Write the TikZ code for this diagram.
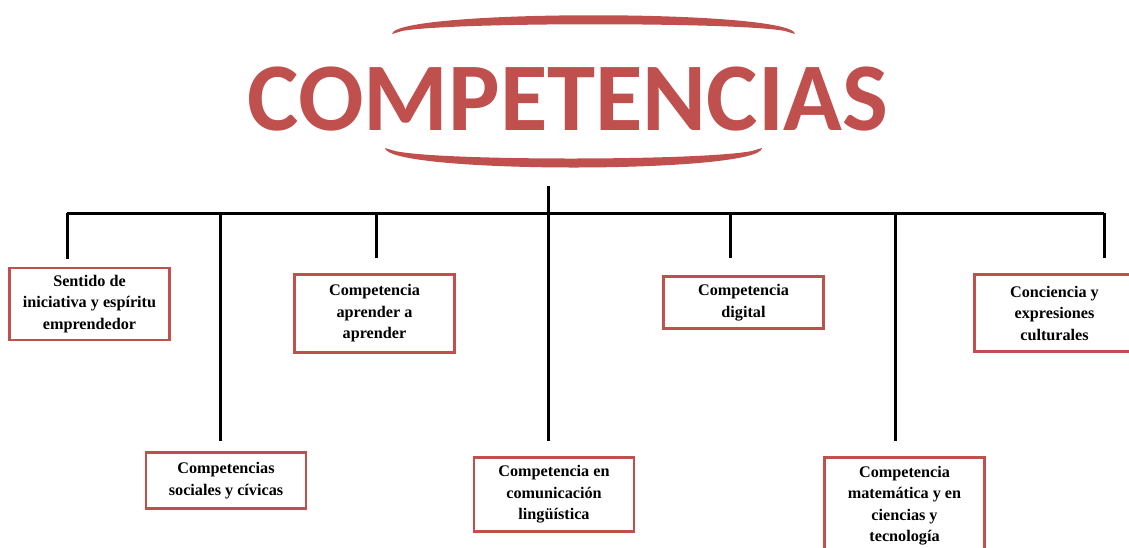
\documentclass[tikz,border=0pt]{standalone}
\usepackage{fontspec}
\setmainfont{Liberation Serif}
\newfontfamily\titlefont{Carlito}
\definecolor{cred}{HTML}{C0504D}
\begin{document}
\begin{tikzpicture}[x=1pt,y=-1pt,
  box/.style={draw=cred, line width=2.5pt, fill=white, minimum width=160pt,
    align=center, inner sep=0pt, font=\bfseries\fontsize{16.2}{21.5}\selectfont},
  conn/.style={line width=3pt, black},
  arcfill/.style={fill=cred, draw=none}]
\clip (0,0) rectangle (1129,547);
\fill[white] (0,0) rectangle (1129,547);
% title
\node[anchor=base, font=\titlefont\bfseries\fontsize{97}{97}\selectfont, text=cred, inner sep=0pt] (title) at (568,130) {COMPETENCIAS};
\path[arcfill] (392,34) .. controls (395,9) and (792,9) .. (795,34)
  -- (785,31) .. controls (740,22) and (450,22) .. (402,31) -- cycle;
\path[arcfill] (385,148) .. controls (388,174) and (760,174) .. (762,148)
  -- (752,151) .. controls (700,161) and (440,161) .. (395,151) -- cycle;
% boxes
\node[box, minimum height=72pt] (s1) at (89.5,304) {Sentido de\\iniciativa y espíritu\\emprendedor};
\node[box, minimum height=56pt] (s2) at (226,480.5) {Competencias\\sociales y cívicas};
\node[box, minimum height=78pt] (s3) at (374.5,313.5) {Competencia\\aprender a\\aprender};
\node[box, minimum height=74pt] (s4) at (554,494.5) {Competencia en\\comunicación\\lingüística};
\node[box, minimum height=52pt] (s5) at (743.5,302.5) {Competencia\\digital};
\node[box, minimum height=96pt] (s6) at (904.5,505.5) {Competencia\\matemática y en\\ciencias y\\tecnología};
\node[box, minimum height=77pt] (s7) at (1054.5,313) {Conciencia y\\expresiones\\culturales};
% connectors
\coordinate (top) at (548,186);
\coordinate (hub) at (548,213);
\coordinate (b1) at (67,213);
\coordinate (b2) at (220,213);
\coordinate (b3) at (376,213);
\coordinate (b4) at (548,213);
\coordinate (b5) at (730,213);
\coordinate (b6) at (895,213);
\coordinate (b7) at (1104,213);
\draw[conn] (top) -- (hub);
\draw[conn] (b1) -- (b7);
\draw[conn] (b1) -- ([yshift=8pt]b1 |- s1.north);
\draw[conn] (b2) -- ([yshift=10pt]b2 |- s2.north);
\draw[conn] (b3) -- ([yshift=15pt]b3 |- s3.north);
\draw[conn] (b4) -- ([yshift=15pt]b4 |- s4.north);
\draw[conn] (b5) -- ([yshift=17pt]b5 |- s5.north);
\draw[conn] (b6) -- ([yshift=15pt]b6 |- s6.north);
\draw[conn] (b7) -- ([yshift=15pt]b7 |- s7.north);
\end{tikzpicture}
\end{document}
